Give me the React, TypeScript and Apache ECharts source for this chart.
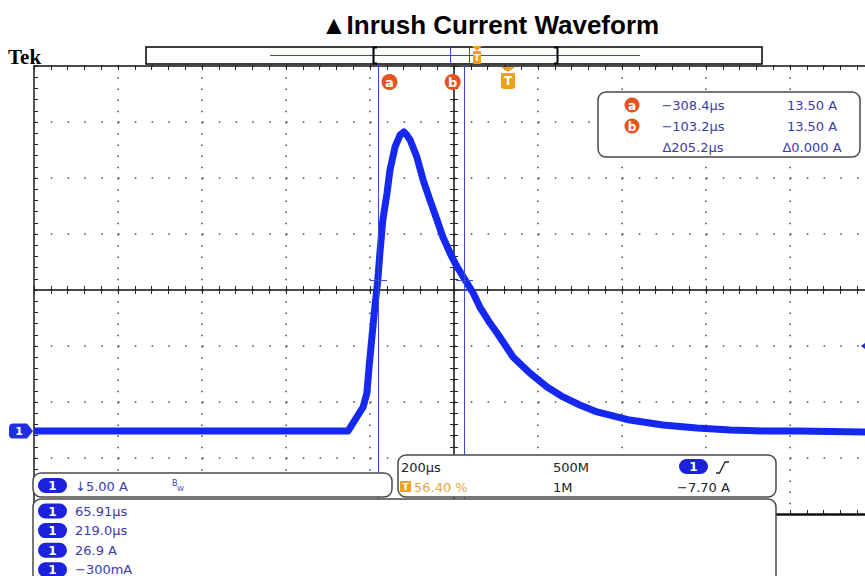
import React, { useEffect, useRef } from "react";
import * as echarts from "echarts";

// ---- Data ----
// time relative to trigger (µs) and current (A)
const TIME_US = [-1128.6, -900, -700, -500, -381, -369, -357, -345, -336, -331, -324, -317, -310, -305, -298, -288, -281, -269, -257, -248, -241, -233, -217, -202, -186, -169, -155, -138, -121, -102, -83, -67, -43, -26, 12, 52, 93, 131, 171, 212, 290, 369, 450, 529, 607, 688, 871];
const CURRENT_A = [0, 0, 0, 0, 0, 0.71, 1.43, 2.14, 3.39, 5.6, 8.39, 11.07, 13.48, 15.89, 18.84, 21.25, 23.3, 25.36, 26.43, 26.7, 26.43, 25.98, 24.46, 22.41, 20.63, 18.84, 17.32, 15.89, 14.64, 13.48, 12.32, 11.07, 9.64, 8.75, 6.61, 5.18, 3.93, 3.04, 2.32, 1.7, 0.98, 0.54, 0.27, 0.09, 0, 0, -0.09];

// screen scale
const X_DIV = 200; // µs / div
const Y_DIV = 5; // A / div
const X_MIN = -1128.57;
const X_MAX = 871.43;
const Y_MIN = -7.41;
const Y_MAX = 32.59;

// cursors
const CURSOR_LABELS = ["a", "b"];
const CURSOR_T = [-308.4, -103.2];
const CURSOR_I = [13.5, 13.5];
const TRIGGER_T = 0;
const TRIGGER_MARK_A = 7.6;

// readouts
const MEASUREMENTS = ["65.91µs", "219.0µs", "26.9 A", "−300mA"];
const SCALE_TEXT = "↓5.00 A";
const TIMEBASE = ["200µs", "500M"];
const TRIG_POS = "56.40 %";
const RECORD = "1M";
const TRIG_LEVEL = "−7.70 A";

const FONT = '"DejaVu Sans", sans-serif';
const TEXT_BLUE = "#3b3bab";
const PILL_BLUE = "#1c22dc";
const WAVE = "#1428f0";
const CURSOR_BLUE = "#3a48d8";
const ORANGE_RED = "#e5531e";
const ORANGE = "#f0a020";
const LABEL_SHIFT = [11, -12];

const fmtT = (v: number) => (v < 0 ? "−" : "") + Math.abs(v).toFixed(1) + "µs";
const fmtI = (v: number) => v.toFixed(2) + " A";

function txt(x: number, y: number, text: string, o: any = {}) {
  return {
    type: "text",
    x,
    y,
    z: 61,
    silent: true,
    style: {
      text,
      fill: o.fill ?? TEXT_BLUE,
      fontSize: o.size ?? 13,
      fontFamily: o.family ?? FONT,
      fontWeight: o.weight ?? "normal",
      textAlign: o.align ?? "left",
      textVerticalAlign: "middle",
    },
  };
}

function pill(x: number, y: number) {
  const w = 29;
  const h = 15;
  return [
    { type: "rect", z: 60, silent: true, shape: { x, y, width: w, height: h, r: h / 2 }, style: { fill: PILL_BLUE } },
    txt(x + w / 2, y + h / 2 + 0.5, "1", { fill: "#fff", weight: "bold", size: 12, align: "center" }),
  ];
}

function panel(x: number, y: number, w: number, h: number, r: any = 8) {
  return { type: "rect", z: 50, silent: true, shape: { x, y, width: w, height: h, r }, style: { fill: "#fff", stroke: "#4a4a4a", lineWidth: 1.5 } };
}

function buildGraphics() {
  const g: any[] = [];
  // title & header
  g.push(txt(490, 25, "▲Inrush Current Waveform", { fill: "#000", weight: "bold", size: 26, family: '"Liberation Sans", Arial, sans-serif', align: "center" }));
  g.push(txt(8, 57, "Tek", { fill: "#000", weight: "bold", size: 21, family: '"Liberation Serif", serif' }));
  g.push({ type: "rect", z: 50, silent: true, shape: { x: 146, y: 47, width: 616, height: 17 }, style: { fill: "#fff", stroke: "#000", lineWidth: 1.5 } });
  g.push({ type: "line", z: 51, silent: true, shape: { x1: 270, y1: 55.5, x2: 640, y2: 55.5 }, style: { stroke: "#3344cc", lineWidth: 1 } });
  g.push({ type: "polyline", z: 52, silent: true, shape: { points: [[377, 47.5], [373.5, 47.5], [373.5, 63.5], [377, 63.5]] }, style: { stroke: "#000", lineWidth: 2, fill: null } });
  g.push({ type: "polyline", z: 52, silent: true, shape: { points: [[554, 47.5], [557.5, 47.5], [557.5, 63.5], [554, 63.5]] }, style: { stroke: "#000", lineWidth: 2, fill: null } });
  g.push({ type: "line", z: 51, silent: true, shape: { x1: 450.5, y1: 47, x2: 450.5, y2: 64 }, style: { stroke: "#3344cc", lineWidth: 1 } });
  g.push({ type: "line", z: 51, silent: true, shape: { x1: 469.5, y1: 47, x2: 469.5, y2: 64 }, style: { stroke: "#3344cc", lineWidth: 1 } });
  g.push({ type: "polygon", z: 52, silent: true, shape: { points: [[472, 46], [482, 46], [477, 51]] }, style: { fill: ORANGE } });
  g.push({ type: "rect", z: 52, silent: true, shape: { x: 473, y: 51, width: 8, height: 13, r: 1 }, style: { fill: ORANGE } });
  g.push(txt(477, 58, "T", { fill: "#fff", weight: "bold", size: 8, align: "center" }));

  // cursor readout box
  g.push(panel(598, 92, 262, 65));
  const rowY = [105, 126, 147];
  CURSOR_LABELS.forEach((l, i) => {
    g.push({ type: "circle", z: 60, silent: true, shape: { cx: 632, cy: rowY[i], r: 7.5 }, style: { fill: ORANGE_RED } });
    g.push(txt(632, rowY[i] + 0.5, l, { fill: "#fff", weight: "bold", size: 12, align: "center" }));
    g.push(txt(693, rowY[i], fmtT(CURSOR_T[i]), { align: "center" }));
    g.push(txt(812, rowY[i], fmtI(CURSOR_I[i]), { align: "center" }));
  });
  g.push(txt(693, rowY[2], "Δ" + (CURSOR_T[1] - CURSOR_T[0]).toFixed(1) + "µs", { align: "center" }));
  g.push(txt(812, rowY[2], "Δ" + (CURSOR_I[1] - CURSOR_I[0]).toFixed(3) + " A", { align: "center" }));

  // vertical scale panel
  g.push(panel(33, 473, 359, 24));
  g.push(...pill(38, 478));
  g.push(txt(75, 486, SCALE_TEXT, { size: 13 }));
  g.push(txt(172, 483, "B", { size: 8 }));
  g.push(txt(177, 489, "W", { size: 7 }));

  // timebase / trigger panel
  g.push(panel(398, 455, 378, 42));
  g.push(txt(401, 467, TIMEBASE[0], { fill: "#222" }));
  g.push(txt(553, 467, TIMEBASE[1], { fill: "#222" }));
  g.push(...pill(679, 459));
  g.push({ type: "polyline", z: 61, silent: true, shape: { points: [[716, 473], [719.5, 473], [725, 462], [729, 462]] }, style: { stroke: "#222", lineWidth: 1.3, fill: null } });
  g.push({ type: "rect", z: 60, silent: true, shape: { x: 400, y: 481, width: 11, height: 11, r: 1 }, style: { fill: ORANGE } });
  g.push(txt(405.5, 486.5, "T", { fill: "#fff", weight: "bold", size: 9, align: "center" }));
  g.push(txt(414, 487, TRIG_POS, { fill: "#e9a53a" }));
  g.push(txt(553, 487, RECORD, { fill: "#222" }));
  g.push(txt(677, 487, TRIG_LEVEL, { fill: "#222" }));

  // measurement panel
  g.push(panel(33, 499, 743, 110, [8, 8, 0, 0]));
  MEASUREMENTS.forEach((m, i) => {
    const y = 511 + i * 19.6;
    g.push(...pill(38, y - 7.5));
    g.push(txt(75, y, m, { size: 13 }));
  });
  return g;
}

const CHART_W = 880;
const CHART_H = 576;

function App() {
  const ref = useRef<HTMLDivElement>(null);
  useEffect(() => {
    if (!ref.current) return;
    const chart = echarts.init(ref.current, null, { renderer: "svg", width: CHART_W, height: CHART_H });

    const tickStyle = { color: "#222", width: 1 };
    const baseX: any = {
      type: "value",
      min: X_MIN,
      max: X_MAX,
      interval: X_DIV,
      axisLabel: { show: false },
      splitLine: { show: false },
      axisTick: { show: true, inside: true, length: 4, lineStyle: tickStyle },
      minorTick: { show: true, splitNumber: 5, length: 4, lineStyle: tickStyle },
      axisLine: { show: true, onZero: false, lineStyle: { color: "#111", width: 1.5 } },
    };
    const baseY: any = { ...baseX, min: Y_MIN, max: Y_MAX, interval: Y_DIV };

    const option: any = {
      animation: false,
      backgroundColor: "#fff",
      grid: { left: 34, top: 66, width: 840, height: 448, containLabel: false },
      xAxis: [
        { ...baseX, position: "bottom", axisLine: { show: true, onZero: false, lineStyle: { color: "#111", width: 2.5 } }, splitLine: { show: true, lineStyle: { color: "#444", width: 1.5, type: [1.5, 9.7] } } },
        { ...baseX, position: "top" },
        { ...baseX, position: "bottom", offset: -224 },
        { ...baseX, position: "bottom", offset: -224, axisLine: { show: false, onZero: false }, axisTick: { show: true, inside: false, length: 4, lineStyle: tickStyle } },
      ],
      yAxis: [
        { ...baseY, position: "left", axisLine: { show: true, onZero: false, lineStyle: { color: "#555", width: 2 } }, splitLine: { show: true, lineStyle: { color: "#444", width: 1.5, type: [1.5, 15.3] } } },
        { ...baseY, position: "left", offset: -420 },
        { ...baseY, position: "left", offset: -420, axisLine: { show: false, onZero: false }, axisTick: { show: true, inside: false, length: 4, lineStyle: tickStyle } },
      ],
      series: [
        {
          type: "line",
          xAxisIndex: 0,
          yAxisIndex: 0,
          data: TIME_US.map((t, i) => [t, CURRENT_A[i]]),
          showSymbol: false,
          symbol: "none",
          smooth: false,
          lineStyle: { color: WAVE, width: 7, join: "round" },
          z: 3,
          markLine: {
            silent: true,
            symbol: ["none", "none"],
            label: { show: false },
            lineStyle: { color: CURSOR_BLUE, width: 1, type: "solid" },
            data: [
              ...CURSOR_T.map((t) => ({ xAxis: t })),
              ...CURSOR_T.map((t, i) => [{ coord: [t - 20, CURSOR_I[i]] }, { coord: [t + 20, CURSOR_I[i]] }]),
            ],
          },
          markPoint: {
            silent: true,
            data: [
              ...CURSOR_T.map((t, i) => ({
                coord: [t, Y_MAX],
                symbol: "circle",
                symbolSize: 16,
                symbolOffset: [LABEL_SHIFT[i], 16],
                itemStyle: { color: ORANGE_RED },
                label: { show: true, position: "inside", formatter: CURSOR_LABELS[i], color: "#fff", fontWeight: "bold", fontSize: 13, fontFamily: FONT },
              })),
              {
                coord: [TRIGGER_T, Y_MAX],
                symbol: "path://M0,0L14,0L7,5ZM1,6L13,6Q14,6 14,7L14,19Q14,22 11,22L3,22Q0,22 0,19L0,7Q0,6 1,6Z",
                symbolSize: [14, 22],
                symbolOffset: [0, 12],
                itemStyle: { color: ORANGE },
                label: { show: true, position: "inside", offset: [0, 3], formatter: "T", color: "#fff", fontWeight: "bold", fontSize: 12, fontFamily: FONT },
              },
              {
                coord: [X_MIN, 0],
                symbol: "path://M4,0L18,0L24,7L18,14L4,14Q0,14 0,10L0,4Q0,0 4,0Z",
                symbolSize: [24, 15],
                symbolOffset: [-13, 0],
                itemStyle: { color: "#1f2fe0" },
                label: { show: true, position: "inside", offset: [-2, 0], formatter: "1", color: "#fff", fontWeight: "bold", fontSize: 11, fontFamily: FONT },
              },
              {
                coord: [X_MAX, TRIGGER_MARK_A],
                symbol: "path://M0,6L8,0L8,12Z",
                symbolSize: [8, 12],
                symbolOffset: [-9, 0],
                itemStyle: { color: "#1f2fe0" },
                label: { show: false },
              },
            ],
          },
        },
      ],
      graphic: { elements: buildGraphics() },
    };
    chart.setOption(option);
    return () => chart.dispose();
  }, []);
  return (
    <div style={{ position: "fixed", left: 0, top: 0, width: 865, height: 576, overflow: "hidden", background: "#fff" }}>
      <div ref={ref} style={{ width: CHART_W, height: CHART_H }} />
    </div>
  );
}

export default App;
